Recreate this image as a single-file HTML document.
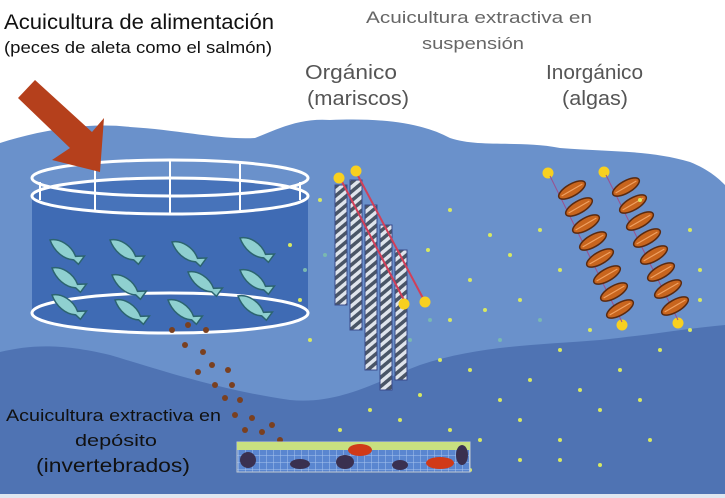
<!DOCTYPE html>
<html><head><meta charset="utf-8"><style>
html,body{margin:0;padding:0;background:#fff;}
svg{display:block}
text{font-family:"Liberation Sans",sans-serif;}
</style></head><body>
<svg width="725" height="498" viewBox="0 0 725 498" xmlns="http://www.w3.org/2000/svg">
<defs>
<pattern id="rope" width="7" height="7" patternUnits="userSpaceOnUse" patternTransform="rotate(-40)">
<rect width="7" height="7" fill="#dfe4ec"/><rect width="7" height="3.5" fill="#4a5566"/>
</pattern>
<pattern id="grid" width="7" height="7" patternUnits="userSpaceOnUse">
<rect width="7" height="7" fill="#5a86d0"/><path d="M0 0H7M0 0V7" stroke="#a8c4ee" stroke-width="1"/>
</pattern>
<g id="fish"><path d="M0 0 C8 -6 22 -4 30 4 L38 0 L36 10 L30 8 C20 12 8 8 0 0Z" fill="#8fd0d0" stroke="#2c6470" stroke-width="1.5"/></g>
<g id="alg"><ellipse cx="0" cy="0" rx="15" ry="6" fill="#c8651e" stroke="#5a2a10" stroke-width="1.5"/><line x1="-12" y1="0" x2="12" y2="0" stroke="#f0a060" stroke-width="1.2"/></g>
</defs>
<path d="M0 143 C40 130 90 122 130 127 C180 130 220 140 255 138 C280 128 300 118 330 120 C380 118 420 122 450 138 C480 148 520 140 560 148 C610 152 650 150 690 162 C710 170 720 180 725 185 L725 498 L0 498Z" fill="#6a91cb"/>
<path d="M0 352 C30 345 60 343 110 355 C160 370 220 390 290 400 C340 405 380 380 420 365 C480 345 540 345 600 340 C650 335 690 328 725 325 L725 498 L0 498Z" fill="#4f73b3"/>
<rect x="0" y="494" width="725" height="4" fill="#dfe7f0"/>
<path d="M32 196 L32 313 A138 20 0 0 0 308 313 L308 196Z" fill="#3f6bb4"/>
<ellipse cx="170" cy="196" rx="138" ry="18" fill="#4773ba" stroke="#fff" stroke-width="3"/>
<ellipse cx="170" cy="178" rx="138" ry="18" fill="none" stroke="#fff" stroke-width="3"/>
<ellipse cx="170" cy="313" rx="138" ry="20" fill="none" stroke="#fff" stroke-width="3"/>
<g stroke="#fff" stroke-width="2"><line x1="40" y1="182" x2="40" y2="200"/><line x1="95" y1="162" x2="95" y2="210"/><line x1="170" y1="160" x2="170" y2="214"/><line x1="240" y1="162" x2="240" y2="210"/><line x1="300" y1="182" x2="300" y2="200"/></g>
<use href="#fish" transform="translate(50,240) rotate(25)"/><use href="#fish" transform="translate(110,240) rotate(25)"/><use href="#fish" transform="translate(172,242) rotate(25)"/><use href="#fish" transform="translate(240,238) rotate(25)"/>
<use href="#fish" transform="translate(52,268) rotate(25)"/><use href="#fish" transform="translate(112,275) rotate(25)"/><use href="#fish" transform="translate(188,272) rotate(25)"/><use href="#fish" transform="translate(240,270) rotate(25)"/>
<use href="#fish" transform="translate(52,295) rotate(25)"/><use href="#fish" transform="translate(115,300) rotate(25)"/><use href="#fish" transform="translate(168,300) rotate(25)"/><use href="#fish" transform="translate(238,296) rotate(25)"/>
<path d="M18 98 L35 80 L92 132 L104 118 L100 172 L52 160 L70 148Z" fill="#b5401c"/>
<g stroke="#3a4a8a" stroke-width="1">
<rect x="335" y="185" width="12" height="120" fill="url(#rope)"/>
<rect x="350" y="180" width="12" height="150" fill="url(#rope)"/>
<rect x="365" y="205" width="12" height="165" fill="url(#rope)"/>
<rect x="380" y="225" width="12" height="165" fill="url(#rope)"/>
<rect x="395" y="250" width="12" height="130" fill="url(#rope)"/>
</g>
<g stroke="#d0405a" stroke-width="2"><line x1="340" y1="178" x2="405" y2="302"/><line x1="356" y1="172" x2="425" y2="302"/></g>
<g fill="#f8d020"><circle cx="339" cy="178" r="5.5"/><circle cx="356" cy="171" r="5.5"/><circle cx="404" cy="304" r="5.5"/><circle cx="425" cy="302" r="5.5"/>
<circle cx="548" cy="173" r="5.5"/><circle cx="604" cy="172" r="5.5"/><circle cx="622" cy="325" r="5.5"/><circle cx="678" cy="323" r="5.5"/></g>
<g stroke="#9a5090" stroke-width="1"><line x1="550" y1="176" x2="622" y2="322"/><line x1="606" y1="175" x2="678" y2="320"/></g>
<g>
<use href="#alg" transform="translate(572,190) rotate(-30)"/><use href="#alg" transform="translate(579,207) rotate(-30)"/><use href="#alg" transform="translate(586,224) rotate(-30)"/><use href="#alg" transform="translate(593,241) rotate(-30)"/><use href="#alg" transform="translate(600,258) rotate(-30)"/><use href="#alg" transform="translate(607,275) rotate(-30)"/><use href="#alg" transform="translate(614,292) rotate(-30)"/><use href="#alg" transform="translate(620,309) rotate(-30)"/>
<use href="#alg" transform="translate(626,187) rotate(-30)"/><use href="#alg" transform="translate(633,204) rotate(-30)"/><use href="#alg" transform="translate(640,221) rotate(-30)"/><use href="#alg" transform="translate(647,238) rotate(-30)"/><use href="#alg" transform="translate(654,255) rotate(-30)"/><use href="#alg" transform="translate(661,272) rotate(-30)"/><use href="#alg" transform="translate(668,289) rotate(-30)"/><use href="#alg" transform="translate(675,306) rotate(-30)"/>
</g>
<g fill="#d8e860">
<circle cx="290" cy="245" r="2"/><circle cx="300" cy="300" r="2"/><circle cx="320" cy="200" r="2"/><circle cx="428" cy="250" r="2"/><circle cx="450" cy="210" r="2"/><circle cx="470" cy="280" r="2"/><circle cx="490" cy="235" r="2"/><circle cx="510" cy="255" r="2"/><circle cx="520" cy="300" r="2"/><circle cx="540" cy="230" r="2"/><circle cx="560" cy="270" r="2"/><circle cx="485" cy="310" r="2"/><circle cx="450" cy="320" r="2"/><circle cx="440" cy="360" r="2"/><circle cx="470" cy="370" r="2"/><circle cx="420" cy="395" r="2"/><circle cx="370" cy="410" r="2"/><circle cx="400" cy="420" r="2"/><circle cx="450" cy="430" r="2"/><circle cx="480" cy="440" r="2"/><circle cx="520" cy="420" r="2"/><circle cx="560" cy="440" r="2"/><circle cx="600" cy="410" r="2"/><circle cx="640" cy="400" r="2"/><circle cx="580" cy="390" r="2"/><circle cx="620" cy="370" r="2"/><circle cx="660" cy="350" r="2"/><circle cx="690" cy="330" r="2"/><circle cx="700" cy="270" r="2"/><circle cx="690" cy="230" r="2"/><circle cx="560" cy="460" r="2"/><circle cx="600" cy="465" r="2"/><circle cx="520" cy="460" r="2"/><circle cx="650" cy="440" r="2"/><circle cx="590" cy="330" r="2"/><circle cx="560" cy="350" r="2"/><circle cx="530" cy="380" r="2"/><circle cx="500" cy="400" r="2"/><circle cx="640" cy="200" r="2"/><circle cx="700" cy="300" r="2"/><circle cx="340" cy="430" r="2"/><circle cx="310" cy="340" r="2"/><circle cx="470" cy="470" r="2"/>
</g>
<g fill="#7ab8b0"><circle cx="305" cy="270" r="2"/><circle cx="325" cy="255" r="2"/><circle cx="430" cy="320" r="2"/><circle cx="410" cy="340" r="2"/><circle cx="500" cy="340" r="2"/><circle cx="540" cy="320" r="2"/></g>
<g fill="#7a4020">
<circle cx="172" cy="330" r="3"/><circle cx="188" cy="325" r="3"/><circle cx="206" cy="330" r="3"/><circle cx="185" cy="345" r="3"/><circle cx="203" cy="352" r="3"/><circle cx="212" cy="365" r="3"/><circle cx="198" cy="372" r="3"/><circle cx="228" cy="370" r="3"/><circle cx="215" cy="385" r="3"/><circle cx="232" cy="385" r="3"/><circle cx="225" cy="398" r="3"/><circle cx="240" cy="400" r="3"/><circle cx="235" cy="415" r="3"/><circle cx="252" cy="418" r="3"/><circle cx="245" cy="430" r="3"/><circle cx="262" cy="432" r="3"/><circle cx="272" cy="425" r="3"/><circle cx="255" cy="445" r="3"/><circle cx="280" cy="440" r="3"/><circle cx="295" cy="445" r="3"/><circle cx="270" cy="455" r="3"/><circle cx="305" cy="455" r="3"/>
</g>
<rect x="237" y="442" width="233" height="30" fill="url(#grid)" stroke="#c0c8d0"/>
<rect x="237" y="442" width="233" height="8" fill="#c8e080"/>
<g fill="#3a3050"><ellipse cx="248" cy="460" rx="8" ry="8"/><ellipse cx="300" cy="464" rx="10" ry="5"/><ellipse cx="345" cy="462" rx="9" ry="7"/><ellipse cx="400" cy="465" rx="8" ry="5"/><ellipse cx="462" cy="455" rx="6" ry="10"/></g>
<g fill="#d03a18"><ellipse cx="360" cy="450" rx="12" ry="6"/><ellipse cx="440" cy="463" rx="14" ry="6"/></g>
<text x="4" y="29" font-size="21" fill="#111" textLength="270" lengthAdjust="spacingAndGlyphs">Acuicultura de alimentación</text>
<text x="4" y="53" font-size="17" fill="#111" textLength="268" lengthAdjust="spacingAndGlyphs">(peces de aleta como el salmón)</text>
<text x="366" y="23" font-size="17" fill="#666" textLength="226" lengthAdjust="spacingAndGlyphs">Acuicultura extractiva en</text>
<text x="422" y="49" font-size="17" fill="#666" textLength="102" lengthAdjust="spacingAndGlyphs">suspensión</text>
<text x="305" y="79" font-size="20" fill="#555" textLength="92" lengthAdjust="spacingAndGlyphs">Orgánico</text>
<text x="307" y="105" font-size="20" fill="#555" textLength="102" lengthAdjust="spacingAndGlyphs">(mariscos)</text>
<text x="546" y="79" font-size="20" fill="#555" textLength="97" lengthAdjust="spacingAndGlyphs">Inorgánico</text>
<text x="562" y="105" font-size="20" fill="#555" textLength="66" lengthAdjust="spacingAndGlyphs">(algas)</text>
<text x="6" y="421" font-size="17" fill="#111" textLength="215" lengthAdjust="spacingAndGlyphs">Acuicultura extractiva en</text>
<text x="75" y="446" font-size="17" fill="#111" textLength="82" lengthAdjust="spacingAndGlyphs">depósito</text>
<text x="36" y="472" font-size="19" fill="#111" textLength="154" lengthAdjust="spacingAndGlyphs">(invertebrados)</text>
</svg>
</body></html>
